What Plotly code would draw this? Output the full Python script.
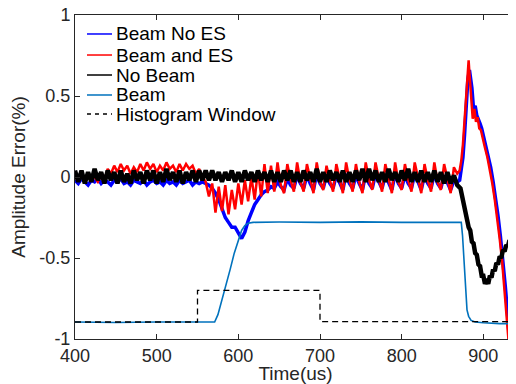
import numpy as np
import plotly.graph_objects as go

# sample grid for the noisy flat portion (400..868 us, every 4 us)
t_grid = list(range(400, 872, 4))

no_beam = [
    0.04, -0.03, 0.04, -0.04, 0.03, -0.03, 0.05, -0.02, 0.03, -0.04,
    0.04, -0.02, 0.03, -0.04, 0.04, -0.03, 0.02, -0.04, 0.04, -0.02,
    0.03, -0.04, 0.04, -0.02, 0.04, -0.04, 0.03, -0.03, 0.05, -0.02,
    0.03, -0.03, 0.04, -0.04, 0.03, -0.02, 0.04, -0.03, 0.04, -0.02,
    0.04, -0.02, 0.04, -0.02, 0.03, -0.03, 0.03, -0.02, 0.04, -0.03,
    0.03, -0.03, 0.04, -0.02, 0.03, -0.03, 0.04, -0.02, 0.03, -0.03,
    0.04, -0.03, 0.03, -0.03, 0.04, -0.02, 0.04, -0.03, 0.03, -0.03,
    0.04, -0.02, 0.03, -0.03, 0.05, -0.03, 0.03, -0.03, 0.04, -0.02,
    0.03, -0.03, 0.04, -0.03, 0.03, -0.03, 0.04, -0.02, 0.05, -0.03,
    0.05, -0.02, 0.04, -0.03, 0.03, -0.03, 0.05, -0.02, 0.03, -0.03,
    0.04, -0.02, 0.05, -0.03, 0.03, -0.03, 0.04, -0.03, 0.03, -0.03,
    0.04, -0.03, 0.03, -0.04, 0.03, -0.04, 0.01, -0.05,
]
no_beam_tail_t = [872, 874, 876, 878, 880, 882, 884, 886, 888, 890, 892, 894,
                  896, 898, 900, 902, 904, 906, 908, 910, 912, 914, 916, 918,
                  920, 922, 924, 926, 928, 930, 932, 934, 936, 938, 940]
no_beam_tail = [-0.07, -0.12, -0.14, -0.21, -0.24, -0.31, -0.33, -0.40, -0.41,
                -0.47, -0.48, -0.54, -0.55, -0.61, -0.61, -0.66, -0.63, -0.66,
                -0.61, -0.62, -0.57, -0.58, -0.53, -0.54, -0.49, -0.50, -0.45,
                -0.46, -0.42, -0.43, -0.39, -0.40, -0.36, -0.37, -0.34]

beam_no_es = [
    -0.02, -0.04, -0.01, -0.03, -0.05, -0.02, -0.03, -0.01, -0.04, -0.02,
    -0.03, -0.05, -0.02, -0.03, -0.01, -0.04, -0.03, -0.05, -0.02, -0.03,
    -0.04, -0.02, -0.05, -0.03, -0.02, -0.04, -0.03, -0.05, -0.02, -0.04,
    -0.03, -0.05, -0.02, -0.04, -0.03, -0.02, -0.05, -0.03, -0.04, -0.03,
    -0.04, -0.05, -0.07, -0.10, -0.14, -0.20, -0.25, -0.28, -0.31, -0.31,
    -0.35, -0.38, -0.34, -0.27, -0.22, -0.17, -0.14, -0.11, -0.09, -0.08,
    -0.06, -0.07, -0.03, -0.06, -0.08, -0.01, -0.05, -0.07, 0.01, -0.04,
    -0.07, 0.01, -0.04, -0.08, 0.02, -0.04, -0.07, 0.01, -0.04, -0.07,
    0.01, -0.04, -0.08, 0.02, -0.04, -0.07, 0.01, -0.04, -0.08, 0.02,
    -0.04, -0.07, 0.02, -0.03, -0.07, 0.01, -0.04, -0.08, 0.02, -0.04,
    -0.07, 0.01, -0.04, -0.07, 0.02, -0.03, -0.08, 0.01, -0.04, -0.07,
    0.02, -0.04, -0.07, 0.01, -0.03, -0.08, -0.02, -0.03,
]
beam_no_es_tail_t = [871, 873, 875, 877, 879, 881, 883, 884, 886, 888, 890, 892,
                     894, 896, 898, 900, 903, 906, 909, 912, 915, 918, 921, 924,
                     927, 929, 931, 933]
beam_no_es_tail = [-0.02, 0.04, 0.12, 0.26, 0.45, 0.60, 0.66, 0.63, 0.55, 0.42,
                   0.44, 0.38, 0.36, 0.33, 0.30, 0.26, 0.20, 0.13, 0.06, -0.03,
                   -0.13, -0.24, -0.37, -0.51, -0.68, -0.80, -0.94, -1.08]

beam_es = [
    0.00, -0.02, 0.01, -0.03, 0.02, -0.01, 0.00, -0.03, 0.01, -0.02,
    0.05, 0.02, 0.07, 0.03, 0.08, 0.04, 0.07, 0.02, 0.06, 0.03,
    0.08, 0.04, 0.09, 0.05, 0.08, 0.03, 0.07, 0.04, 0.09, 0.05,
    0.07, 0.03, 0.08, 0.04, 0.08, 0.05, 0.07, 0.02, 0.05, 0.00,
    -0.03, -0.12, -0.04, -0.22, -0.06, -0.21, -0.05, -0.23, -0.08, -0.20,
    -0.04, -0.17, -0.02, -0.15, 0.00, -0.14, 0.04, -0.12, 0.08, -0.10,
    0.07, -0.09, 0.09, -0.05, -0.10, 0.08, -0.02, -0.09, 0.09, -0.03,
    -0.09, 0.08, -0.01, -0.10, 0.09, -0.03, -0.08, 0.07, -0.02, -0.09,
    0.08, -0.01, -0.10, 0.09, -0.02, -0.09, 0.08, -0.03, -0.10, 0.09,
    -0.02, -0.08, 0.09, -0.01, -0.09, 0.08, -0.02, -0.10, 0.09, -0.03,
    -0.08, 0.08, -0.02, -0.09, 0.09, -0.01, -0.10, 0.08, -0.02, -0.09,
    0.09, -0.03, -0.08, 0.08, -0.01, -0.10, 0.06, 0.02,
]
beam_es_tail_t = [871, 873, 875, 877, 879, 881, 882, 883, 885, 887, 889, 891,
                  893, 895, 897, 899, 902, 905, 908, 911, 914, 917, 920, 923,
                  926, 928, 930, 932]
beam_es_tail = [0.04, 0.10, 0.20, 0.35, 0.55, 0.70, 0.72, 0.64, 0.52, 0.36,
                0.42, 0.34, 0.37, 0.30, 0.29, 0.24, 0.18, 0.12, 0.05, -0.04,
                -0.14, -0.25, -0.38, -0.52, -0.69, -0.81, -0.95, -1.08]

beam_t = [400, 450, 500, 550, 571, 575, 580, 585, 590, 595, 600, 604, 608, 612,
          618, 650, 700, 750, 800, 850, 873, 874.5, 876, 878, 880, 882, 885,
          890, 900, 920, 940]
beam = [-0.895, -0.898, -0.895, -0.895, -0.895, -0.85, -0.76, -0.67, -0.57,
        -0.47, -0.39, -0.33, -0.30, -0.285, -0.28, -0.278, -0.28, -0.277,
        -0.28, -0.28, -0.28, -0.36, -0.50, -0.70, -0.82, -0.86, -0.885,
        -0.895, -0.90, -0.905, -0.905]

hist_t = [400, 550, 550, 700, 700, 940]
hist = [-0.895, -0.895, -0.70, -0.70, -0.893, -0.893]

x_ticks = [400, 500, 600, 700, 800, 900]
y_ticks = [-1, -0.5, 0, 0.5, 1]
y_ticktext = ["-1", "-0.5", "0", "0.5", "1"]

FONT = "Liberation Sans, Arial, Helvetica, sans-serif"
TXT = "#262626"

series = [
    ("Beam No ES", t_grid + beam_no_es_tail_t, beam_no_es + beam_no_es_tail,
     dict(color="#0000FF", width=3.5)),
    ("Beam and ES", t_grid + beam_es_tail_t, beam_es + beam_es_tail,
     dict(color="#FF0000", width=2.5)),
    ("No Beam", t_grid + no_beam_tail_t, no_beam + no_beam_tail,
     dict(color="#000000", width=4.5)),
    ("Beam", beam_t, beam, dict(color="#0072BD", width=1.6)),
    ("Histogram Window", hist_t, hist,
     dict(color="#000000", width=1.3, dash="6px,4px")),
]

fig = go.Figure()
for name, xs, ys, ln in series:
    fig.add_trace(go.Scatter(x=xs, y=ys, mode="lines", name=name, line=ln,
                             showlegend=False))

# legend drawn as line samples + text (compact MATLAB-style spacing)
leg_x0, leg_x1, leg_tx = 0.0272, 0.0839, 0.088
leg_y = [0.9414, 0.8765, 0.8148, 0.7531, 0.6944]
leg_colors = ["#0000FF", "#FF0000", "#000000", "#0072BD", "#000000"]
leg_dash = ["solid", "solid", "solid", "solid", "4px,4px"]
for (name, _, _, _), yy, col, ds in zip(series, leg_y, leg_colors, leg_dash):
    fig.add_shape(type="line", xref="paper", yref="paper", x0=leg_x0, x1=leg_x1,
                  y0=yy, y1=yy, line=dict(color=col, width=1.5, dash=ds))
    fig.add_annotation(xref="paper", yref="paper", x=leg_tx, y=yy, text=name,
                       showarrow=False, xanchor="left", yanchor="middle",
                       font=dict(size=19, color="#000000", family=FONT))

# the page places the figure 8px from its top-left corner
fig.update_layout(
    width=508, height=376,
    margin=dict(l=67, r=0, t=7, b=45),
    paper_bgcolor="white", plot_bgcolor="white",
    font=dict(family=FONT, size=18, color=TXT),
    showlegend=False,
    xaxis=dict(range=[400, 940], tickvals=x_ticks, ticks="inside", ticklen=5,
               tickcolor=TXT, showline=True, linecolor=TXT, linewidth=1,
               mirror="ticks", showgrid=False, zeroline=False, automargin=False,
               ticklabeloverflow="allow",
               tickfont=dict(size=18, color=TXT),
               title=dict(text="Time(us)", font=dict(size=19, color=TXT), standoff=0)),
    yaxis=dict(range=[-1, 1], tickvals=y_ticks, ticktext=y_ticktext,
               ticks="inside", ticklen=5, tickcolor=TXT, showline=True,
               linecolor=TXT, linewidth=1, mirror=False, showgrid=False,
               zeroline=False, automargin=False, ticklabeloverflow="allow",
               tickfont=dict(size=18, color=TXT),
               title=dict(text="Amplitude Error(%)", font=dict(size=19, color=TXT),
                          standoff=8)),
)

fig.write_html("out.html")
